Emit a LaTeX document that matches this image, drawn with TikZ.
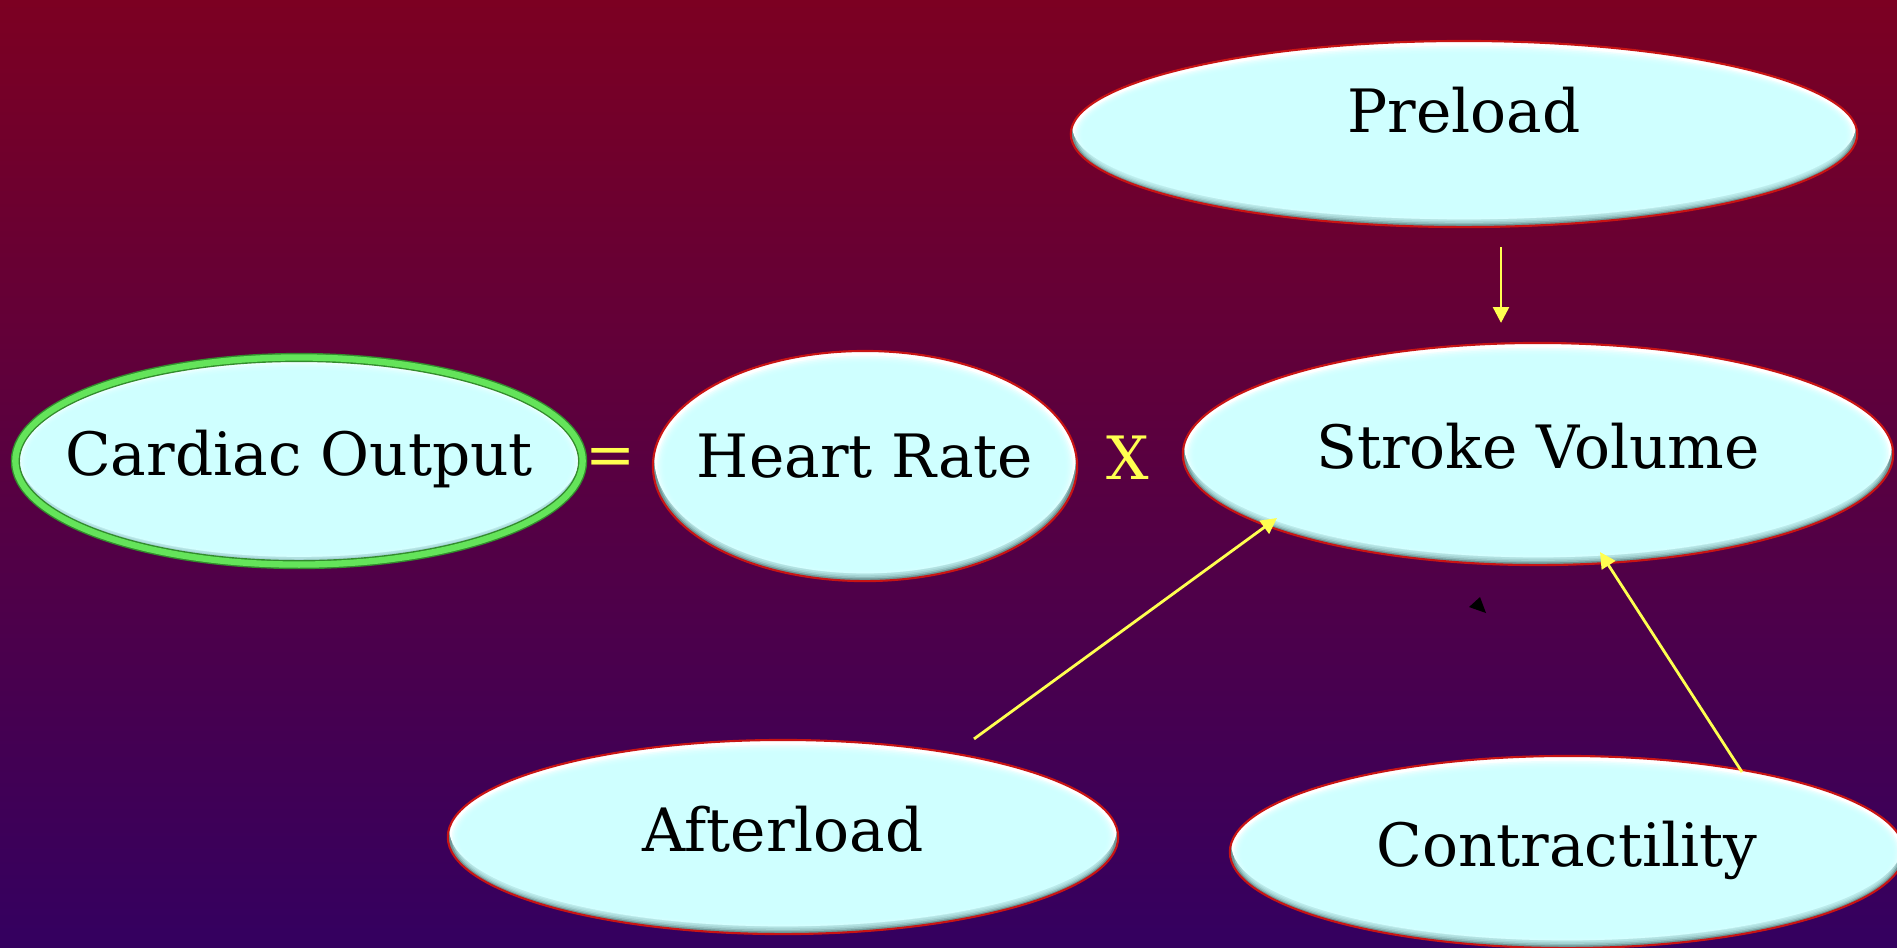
\documentclass[tikz,border=0pt]{standalone}
\usepackage{fontspec}
\setmainfont{DejaVu Serif}
\usetikzlibrary{calc,shapes.geometric,arrows.meta}

\definecolor{bgtop}{RGB}{124,0,34}
\definecolor{bgbottom}{RGB}{52,0,96}
\definecolor{bubblefill}{RGB}{204,255,255}
\definecolor{rim}{RGB}{200,20,20}
\definecolor{bevelshade}{RGB}{110,150,150}
\definecolor{glow}{RGB}{100,228,90}
\definecolor{glowdark}{RGB}{50,140,45}
\definecolor{arrowy}{RGB}{255,255,80}

% inner bevel of the bubbles
\newcommand{\bevelfill}{%
  \fill[bevelshade] (path picture bounding box.south west) rectangle (path picture bounding box.north east);
  \fill[white] let \p1=(path picture bounding box.north east), \p2=(path picture bounding box.center) in
    ([yshift=2.2pt]\p2) ellipse [x radius={\x1-\x2-0.4pt}, y radius={\y1-\y2}];
  \foreach \k in {1,...,6}{
    \fill[bubblefill, opacity=0.35] let \p1=(path picture bounding box.north east), \p2=(path picture bounding box.center) in
      ([yshift=-0.3pt]\p2) ellipse [x radius={\x1-\x2-0.6pt-0.45pt*\k}, y radius={\y1-\y2-0.6pt-0.45pt*\k}];
  }
}

\tikzset{
  bubble/.style={ellipse, draw=rim, line width=0.6pt, inner sep=-3cm, text depth=0.45em,
    font=\fontsize{17}{20}\selectfont, path picture={\bevelfill}},
  chosen/.style={bubble, draw=glowdark, line width=0.4pt, double=glow, double distance=1.8pt},
  sign/.style={text=arrowy, inner sep=0pt, font=\fontsize{17}{20}\selectfont},
  feed/.style={draw=arrowy, line width=0.8pt, -{Triangle[length=4.5pt,width=4.5pt]}}
}

\begin{document}
\begin{tikzpicture}[x=0.01cm, y=-0.01cm]

    % Background
    \useasboundingbox (0,0) rectangle (1897,947);
    \fill[top color=bgtop, bottom color=bgbottom] (0,0) rectangle (1897,947);

    % Bubbles
    \node[chosen, minimum width=5.67cm, minimum height=2.07cm] (co) at (299,461) {Cardiac Output};
    \node[bubble, minimum width=4.24cm, minimum height=2.30cm, text depth=0.6em] (hr) at (865,466) {Heart Rate};
    \node[bubble, minimum width=7.10cm, minimum height=2.22cm] (sv) at (1538,454) {Stroke Volume};
    \node[bubble, minimum width=7.86cm, minimum height=1.86cm, text depth=14pt] (pre) at (1464,134) {Preload};
    \node[bubble, minimum width=6.70cm, minimum height=1.94cm] (al) at (783,837) {Afterload};
    \node[bubble, minimum width=6.74cm, minimum height=1.92cm] (ct) at (1567,852) {Contractility};

    % Operators
    \node[sign] (eq) at (611,462) {=};
    \node[sign] (times) at (1128,458) {X};

    % Arrows
    \draw[feed] ([shift={(37,19)}]pre.south) -- ([shift={(-37,-19)}]sv.north);
    \draw[feed] ([shift={(191,0)}]al.north) -- ([shift={(-261,64)}]sv.center);
    \draw[feed] ([shift={(175,-80)}]ct.center) -- ([shift={(62,98)}]sv.center);

    % stray tip
    \fill (1480,597) -- (1469,607) -- (1486,613) -- cycle;

\end{tikzpicture}
\end{document}
